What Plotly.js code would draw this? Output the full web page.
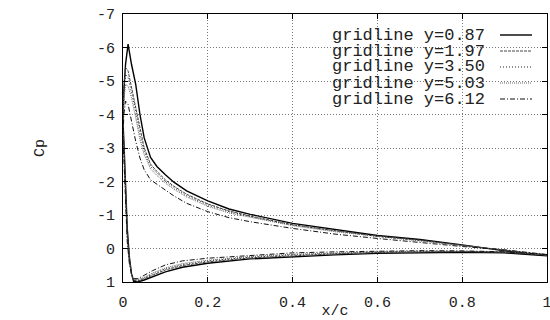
<!DOCTYPE html>
<html>
<head>
<meta charset="utf-8">
<script src="https://cdn.plot.ly/plotly-3.0.1.min.js"></script>
<style>html,body{margin:0;padding:0;background:#fff;}#chart{width:550px;height:320px;}</style>
</head>
<body>
<div id="chart"></div>
<script>
// surface stations: upper surface (TE -> LE) then lower surface (LE -> TE)
const xc = [1.0, 0.9, 0.8, 0.7, 0.6, 0.5, 0.4, 0.3, 0.25, 0.2, 0.15, 0.12, 0.1, 0.08, 0.065, 0.05, 0.04, 0.03, 0.02, 0.012, 0.006, 0.002, 0.0,
            0.003, 0.006, 0.01, 0.015, 0.02, 0.025, 0.035, 0.05, 0.07, 0.1, 0.14, 0.2, 0.3, 0.4, 0.5, 0.6, 0.7, 0.8, 0.9, 1.0];

const cp_087 = [0.22, 0.07, -0.11, -0.27, -0.39, -0.56, -0.75, -1.02, -1.18, -1.42, -1.72, -1.98, -2.2, -2.45, -2.72, -3.3, -4.0, -4.9, -5.5, -6.1, -5.5, -4.7, -3.8,
                -2.9, -1.6, -0.6, 0.25, 0.75, 0.98, 1.0, 0.94, 0.84, 0.70, 0.56, 0.44, 0.31, 0.245, 0.19, 0.145, 0.12, 0.11, 0.13, 0.22];
const cp_197 = [0.2, 0.06, -0.1, -0.25, -0.37, -0.53, -0.71, -0.97, -1.12, -1.33, -1.62, -1.86, -2.05, -2.3, -2.52, -3.0, -3.6, -4.3, -4.9, -5.3, -5.4, -4.8, -3.8,
                -2.8, -1.5, -0.5, 0.3, 0.75, 0.95, 0.97, 0.9, 0.79, 0.64, 0.51, 0.40, 0.28, 0.21, 0.16, 0.12, 0.1, 0.09, 0.11, 0.2];
const cp_350 = [0.2, 0.05, -0.1, -0.24, -0.36, -0.52, -0.70, -0.95, -1.10, -1.30, -1.58, -1.82, -2.0, -2.25, -2.45, -2.9, -3.4, -4.1, -4.7, -5.1, -5.2, -4.6, -3.7,
                -2.7, -1.4, -0.4, 0.35, 0.75, 0.93, 0.95, 0.88, 0.76, 0.61, 0.48, 0.37, 0.26, 0.19, 0.14, 0.11, 0.09, 0.085, 0.11, 0.2];
const cp_503 = [0.19, 0.05, -0.09, -0.23, -0.35, -0.50, -0.68, -0.92, -1.06, -1.26, -1.54, -1.77, -1.95, -2.18, -2.38, -2.8, -3.25, -3.9, -4.5, -4.85, -4.9, -4.4, -3.6,
                -2.6, -1.3, -0.3, 0.4, 0.75, 0.92, 0.93, 0.86, 0.73, 0.58, 0.45, 0.35, 0.24, 0.17, 0.13, 0.1, 0.08, 0.08, 0.1, 0.19];
const cp_612 = [0.18, 0.04, -0.06, -0.17, -0.30, -0.43, -0.60, -0.80, -0.92, -1.10, -1.35, -1.57, -1.75, -1.93, -2.05, -2.35, -2.7, -3.2, -3.8, -4.3, -4.4, -4.0, -3.3,
                -2.4, -1.2, -0.2, 0.45, 0.75, 0.9, 0.9, 0.8, 0.66, 0.49, 0.37, 0.29, 0.2, 0.13, 0.1, 0.075, 0.065, 0.07, 0.1, 0.18];

const seriesNames = ["gridline y=0.87", "gridline y=1.97", "gridline y=3.50", "gridline y=5.03", "gridline y=6.12"];
const seriesData = [cp_087, cp_197, cp_350, cp_503, cp_612];

const xTickVals = [0, 0.2, 0.4, 0.6, 0.8, 1];
const xTickText = ["0", "0.2", "0.4", "0.6", "0.8", "1"];
const yTickVals = [-7, -6, -5, -4, -3, -2, -1, 0, 1];
const yTickText = ["-7", "-6", "-5", "-4", "-3", "-2", "-1", "0", "1"];

const styles = [
  {color: '#000', width: 1.4, dash: 'solid'},
  {color: '#444', width: 1, dash: '3px,1px'},
  {color: '#222', width: 1, dash: '1px,2px'},
  {color: '#666', width: 1, dash: '1px,1px'},
  {color: '#111', width: 1, dash: '5px,2px,1px,2px'}
];

const traces = seriesData.map((cp, i) => ({
  x: xc, y: cp, type: 'scatter', mode: 'lines', name: seriesNames[i],
  line: styles[i], showlegend: false, hoverinfo: 'skip', cliponaxis: true
}));

const mono = 'Liberation Mono, Courier New, monospace';
const plotL = 123, plotR = 547, plotT = 14, plotB = 282;
const rowPx = [35, 51, 67, 83, 99];
const annotations = seriesNames.map((n, i) => ({
  xref: 'paper', yref: 'paper', x: (487 - plotL) / (plotR - plotL), y: 1 - (rowPx[i] - plotT) / (plotB - plotT),
  xanchor: 'right', yanchor: 'middle', text: n, showarrow: false,
  font: {family: mono, size: 17, color: '#222'}
}));
const shapes = seriesNames.map((n, i) => ({
  type: 'line', xref: 'paper', yref: 'paper',
  x0: (500 - plotL) / (plotR - plotL), x1: (532 - plotL) / (plotR - plotL),
  y0: 1 - (rowPx[i] - plotT) / (plotB - plotT), y1: 1 - (rowPx[i] - plotT) / (plotB - plotT),
  line: styles[i]
}));

const axisCommon = {
  showline: true, linecolor: '#000', linewidth: 1, mirror: 'ticks',
  ticks: 'inside', ticklen: 5, tickcolor: '#000',
  showgrid: true, gridcolor: '#777', griddash: '1px,2px', gridwidth: 1,
  zeroline: false, ticklabeloverflow: 'allow',
  tickfont: {family: mono, size: 15, color: '#222'}
};

const layout = {
  width: 550, height: 320,
  margin: {l: plotL, r: 550 - plotR, t: plotT, b: 320 - plotB},
  paper_bgcolor: '#fff', plot_bgcolor: '#fff',
  showlegend: false,
  xaxis: Object.assign({}, axisCommon, {
    range: [0, 1], tickvals: xTickVals, ticktext: xTickText, ticklabelstandoff: 6,
    title: {text: 'x/c', font: {family: mono, size: 15, color: '#222'}, standoff: 8}
  }),
  yaxis: Object.assign({}, axisCommon, {
    range: [1, -7], tickvals: yTickVals, ticktext: yTickText, ticklabelstandoff: 4,
    title: {text: 'Cp', font: {family: mono, size: 15, color: '#222'}, standoff: 48}
  }),
  annotations: annotations,
  shapes: shapes
};

Plotly.newPlot('chart', traces, layout, {displayModeBar: false, staticPlot: true});
</script>
</body>
</html>
